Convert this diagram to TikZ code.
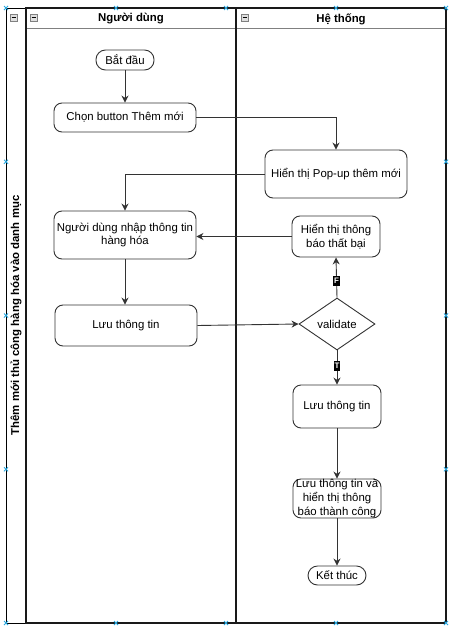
\documentclass[tikz,border=0pt]{standalone}
\usepackage{fontspec}
\setmainfont{Liberation Sans}
\usetikzlibrary{shapes.geometric,arrows.meta}
\definecolor{selblue}{HTML}{29A8E0}
\definecolor{edgec}{HTML}{333333}
\begin{document}
\begin{tikzpicture}[x=1pt,y=-1pt,
  font=\fontsize{11.4}{13.6}\selectfont,
  box/.style={draw=edgec, line width=0.9pt, rounded corners=8pt, align=center, inner sep=1pt},
  term/.style={draw=edgec, line width=0.9pt, rounded corners=9.5pt, align=center, inner sep=1pt},
  arr/.style={draw=edgec, line width=0.9pt, -{Stealth[length=7pt,width=7pt]}},
  lab/.style={fill=black, text=white, font=\fontsize{8}{9}\selectfont\bfseries, inner sep=0.8pt, minimum width=6pt, minimum height=10pt},
  lane/.style={draw=black!90, line width=1.6pt},
  minus/.style={draw=gray, fill=gray!25, line width=0.6pt},
  xmark/.style={draw=selblue, line width=0.8pt}]
\useasboundingbox (0,0) rectangle (454,629);
% pool
\draw[line width=0.8pt] (6,8) rectangle (446,623);
% lanes
\draw[draw=gray, line width=0.8pt] (26,28) -- (446,28);
\draw[lane] (26,8) rectangle (236,623);
\draw[lane] (236,8) rectangle (446,623);
% minus icons
\foreach \x in {10,30,241}{
  \draw[minus] (\x,14) rectangle +(7,7);
  \draw[line width=0.7pt] (\x+1.5,17.5) -- +(4,0);
}
% headers
\node[font=\fontsize{11.4}{13.6}\selectfont\bfseries] (h1) at (131,19) {Người dùng};
\node[font=\fontsize{11.4}{13.6}\selectfont\bfseries] (h2) at (341,19) {Hệ thống};
\node[rotate=90, font=\fontsize{11.4}{13.6}\selectfont\bfseries] (pool) at (16,315.5) {Thêm mới thủ công hàng hóa vào danh mục};
% nodes
\node[term, minimum width=58pt, minimum height=20pt] (start) at (125,60) {Bắt đầu};
\node[box, minimum width=142pt, minimum height=29pt] (chon) at (125,117.5) {Chọn button Thêm mới};
\node[box, minimum width=142pt, minimum height=48pt] (popup) at (336,174) {Hiển thị Pop-up thêm mới};
\node[box, minimum width=142pt, minimum height=48pt] (nhap) at (125,235) {Người dùng nhập thông tin\\hàng hóa};
\node[box, minimum width=88pt, minimum height=41pt] (fail) at (336,236.5) {Hiển thị thông\\báo thất bại};
\node[box, minimum width=142pt, minimum height=41pt] (luuL) at (126,325.5) {Lưu thông tin};
\node[draw=edgec, line width=0.9pt, shape=diamond, inner sep=0pt, minimum width=76pt, minimum height=52pt] (val) at (337,324) {validate};
\node[box, minimum width=88pt, minimum height=43pt] (luuR) at (337,406.5) {Lưu thông tin};
\node[box, minimum width=88pt, minimum height=39pt, inner sep=0pt] (ok) at (337,498.5) {Lưu thông tin và\\hiển thị thông\\báo thành công};
\node[term, minimum width=58pt, minimum height=19pt] (end) at (337,575.5) {Kết thúc};
% edges
\draw[arr] (start) -- (chon);
\draw[arr] (chon.east) -| (popup.north);
\draw[arr] (popup.west) -| (nhap.north);
\draw[arr] (nhap.south) -- (nhap.south |- luuL.north);
\draw[arr] (luuL.east) -- (val.west);
\draw[arr] (val.north) -- node[lab, pos=0.41] (lf) {F} (fail.south);
\draw[arr] (fail.west) -- (fail.west -| nhap.east);
\draw[arr] (val.south) -- node[lab, pos=0.46] (lt) {T} (luuR.north);
\draw[arr] (luuR) -- (ok);
\draw[arr] (ok) -- (end);
% selection handles
\foreach \p in {(6,8),(116,8),(226,8),(336,8),(446,8),(6,623),(116,623),(226,623),(336,623),(446,623),(6,161.75),(6,315.5),(6,469.25),(446,161.75),(446,315.5),(446,469.25)}{
  \draw[xmark] \p +(-2,-2) -- +(2,2) \p +(-2,2) -- +(2,-2);
}
\end{tikzpicture}
\end{document}
